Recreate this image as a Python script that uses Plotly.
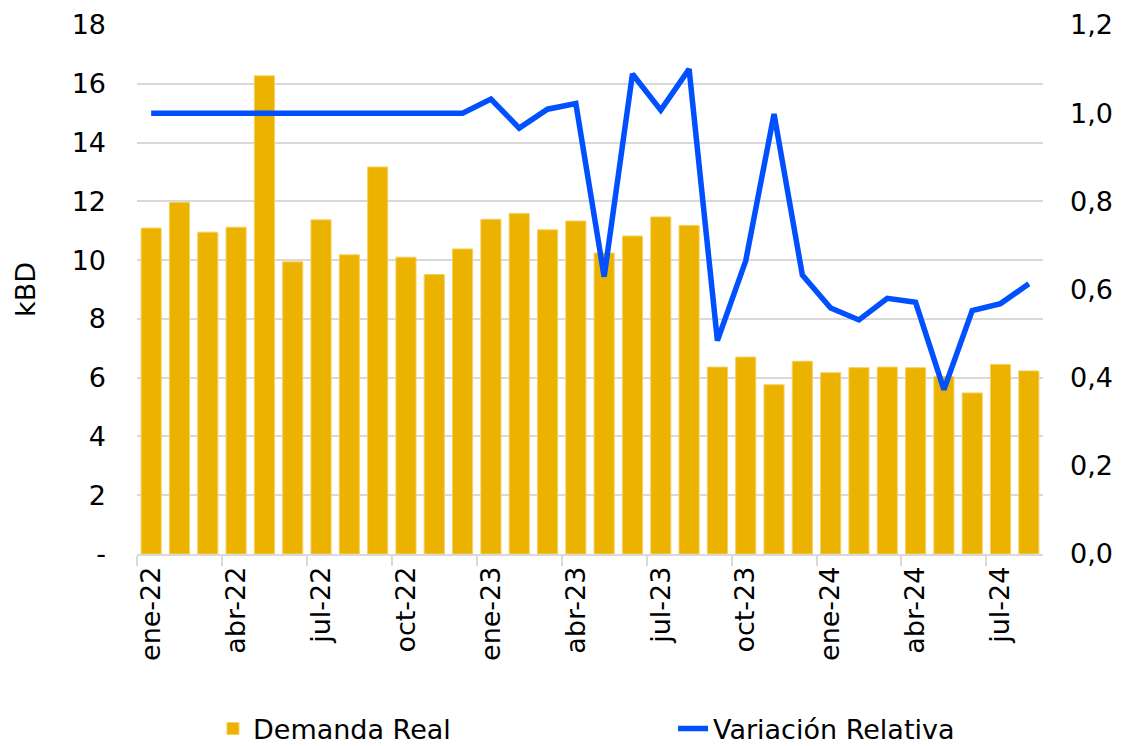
import plotly.graph_objects as go

months = ["ene", "feb", "mar", "abr", "may", "jun", "jul", "ago", "sep", "oct", "nov", "dic"]
categories = [f"{m}-{y}" for y in ("22", "23") for m in months] + [f"{m}-24" for m in months[:8]]

demanda_real = [11.09, 11.96, 10.95, 11.12, 16.27, 9.94, 11.37, 10.18, 13.17, 10.10, 9.51, 10.38,
                11.39, 11.59, 11.03, 11.33, 10.24, 10.82, 11.47, 11.18, 6.36, 6.70, 5.76, 6.56,
                6.17, 6.34, 6.36, 6.34, 6.04, 5.48, 6.45, 6.23]

variacion_relativa = [1.0, 1.0, 1.0, 1.0, 1.0, 1.0, 1.0, 1.0, 1.0, 1.0, 1.0, 1.0,
                      1.032, 0.966, 1.009, 1.022, 0.629, 1.089, 1.007, 1.10, 0.484, 0.665, 0.998, 0.633,
                      0.558, 0.531, 0.580, 0.571, 0.373, 0.552, 0.568, 0.613]

left_ticks = [0, 2, 4, 6, 8, 10, 12, 14, 16, 18]
left_text = ["-", "2", "4", "6", "8", "10", "12", "14", "16", "18"]
right_ticks = [0, 0.2, 0.4, 0.6, 0.8, 1.0, 1.2]
right_text = ["0,0", "0,2", "0,4", "0,6", "0,8", "1,0", "1,2"]

FONT = "DejaVu Sans"
FS = 27

fig = go.Figure()
fig.add_trace(go.Bar(
    x=categories, y=demanda_real, name="Demanda Real",
    marker=dict(color="#EBB200", line=dict(color="#F5D060", width=1)),
    yaxis="y", legend="legend",
))
fig.add_trace(go.Scatter(
    x=categories, y=variacion_relativa, name="Variación Relativa",
    mode="lines", line=dict(color="#0050FF", width=5.5),
    yaxis="y2", legend="legend2",
))

legend_common = dict(orientation="h", xref="container", xanchor="left",
                     yref="container", y=0.023, yanchor="middle",
                     font=dict(family=FONT, size=FS), bgcolor="rgba(0,0,0,0)")

fig.update_layout(
    width=1114, height=738,
    margin=dict(l=129, r=79, t=17, b=192),
    paper_bgcolor="white", plot_bgcolor="white",
    font=dict(family=FONT, size=FS, color="black"),
    bargap=0.29,
    showlegend=True,
    legend=dict(x=0.184, **legend_common),
    legend2=dict(x=0.597, **legend_common),
    xaxis=dict(
        type="category", tickangle=-90, tickson="boundaries", dtick=3,
        ticks="outside", ticklen=10, tickcolor="#D9D9D9", tickwidth=1.5,
        showline=True, linecolor="#D9D9D9", linewidth=1.5,
        showgrid=False, tickfont=dict(family=FONT, size=FS), automargin=False,
    ),
    yaxis=dict(
        range=[0, 18], tickvals=left_ticks, ticktext=left_text,
        showgrid=True, gridcolor="#D9D9D9", gridwidth=1.5, zeroline=False,
        title=dict(text="kBD", font=dict(family=FONT, size=FS), standoff=28),
        tickfont=dict(family=FONT, size=FS), ticklabelstandoff=30, automargin=False,
    ),
    yaxis2=dict(
        range=[0, 1.2], tickvals=right_ticks, ticktext=right_text,
        overlaying="y", side="right", showgrid=False, zeroline=False,
        tickfont=dict(family=FONT, size=FS), ticklabelstandoff=26, automargin=False,
    ),
)

fig.write_html("out.html")
